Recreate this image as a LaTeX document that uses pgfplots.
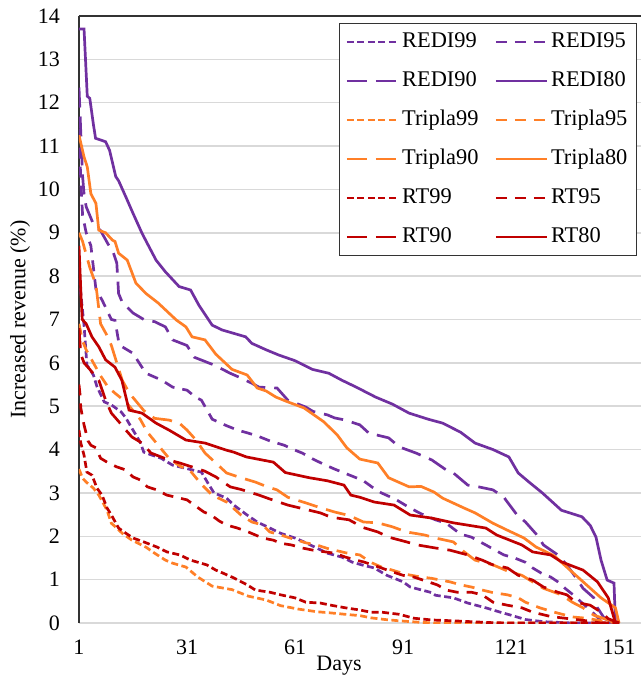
\documentclass[border=0pt]{standalone}
\usepackage{fontspec}
\setmainfont{Liberation Serif}
\usepackage{pgfplots}
\pgfplotsset{compat=1.18}
\definecolor{cP}{HTML}{7030A0}
\definecolor{cO}{HTML}{FF7F27}
\definecolor{cR}{HTML}{C00000}
\definecolor{gridc}{HTML}{D9D9D9}
\tikzset{
  s99/.style={dash pattern=on 3.5pt off 1.75pt},
  s95/.style={dash pattern=on 5.5pt off 4pt},
  s90/.style={dash pattern=on 10pt off 4.5pt},
  s80/.style={solid},
}
\begin{document}
\begin{tikzpicture}
\begin{axis}[name=ax, scale only axis, width=281pt, height=303.5pt,
 xmin=1, xmax=157.1, ymin=0, ymax=14,
 xtick={1,31,61,91,121,151}, ytick={0,1,...,14},
 major tick length=0pt,
 axis x line*=bottom, axis y line*=left,
 x axis line style={draw=gridc, line width=0.75pt, -},
 y axis line style={draw=black!80, line width=0.75pt, -},
 ymajorgrids, grid style={draw=gridc, line width=0.75pt},
 tick label style={font=\fontsize{11}{13}\selectfont},
 /pgf/number format/assume math mode=true,
 yticklabel style={xshift=-6pt},
 xticklabel style={yshift=-5pt},
 xlabel={Days}, ylabel={Increased revenue (\%)},
 label style={font=\fontsize{11}{13}\selectfont},
 xlabel style={at={(axis description cs:0.4626,-0.071)}, anchor=center},
 ylabel style={at={(axis description cs:-0.105,0.5)}, anchor=center},
 legend columns=2,
 legend cell align=left,
 legend style={at={(axis description cs:0.9929,0.9885)}, anchor=north east,
   draw=black!80, line width=0.6pt, fill=white, inner sep=3pt, row sep=7pt,
   font=\fontsize{11.2}{13}\selectfont,
   nodes={text height=7.5pt, text depth=2pt, inner sep=1.5pt},
   /tikz/every even column/.append style={column sep=6.5pt}},
 legend image code/.code={\draw[#1, line width=1.3pt] (0pt,0pt) -- (25.5pt,0pt);},
 every axis plot/.append style={line width=1.35pt},
 after end axis/.code={\draw[black!80, line width=0.75pt] (rel axis cs:0,1) -- (rel axis cs:1,1);},
]
% REDI99
\addplot[cP, s99] coordinates {(1,8.2)(1.5,7.6)(2,7.2)(2.4,6.87)(3.2,5.95)(4,5.85)(5,5.72)(6,5.45)(8,5.1)(10,5.03)(12.7,4.87)(14,4.73)(16,4.45)(18,4.17)(19,3.94)(21,3.88)(23.8,3.8)(27,3.64)(31,3.56)(35,3.48)(37,3.2)(38.5,3.0)(42,2.88)(44,2.72)(47.7,2.49)(50.5,2.33)(54,2.19)(57,2.07)(61,1.96)(63.5,1.87)(67,1.73)(70,1.61)(74,1.52)(77,1.4)(80,1.33)(83,1.27)(86.5,1.1)(91,0.95)(93,0.83)(99,0.7)(100,0.64)(105,0.58)(109,0.46)(114,0.35)(118,0.25)(121,0.18)(125,0.08)(130,0.03)(138,0)(151,0)};
\addlegendentry{REDI99}
% REDI95
\addplot[cP, s95] coordinates {(1,11.4)(1.5,10.2)(2,9.4)(3,9.0)(4.3,8.7)(5,8.2)(5.7,7.7)(7.4,7.45)(10,7.0)(11,6.98)(12,6.5)(13,6.37)(16,6.22)(17.7,6.0)(19.6,5.76)(24,5.6)(27,5.44)(31,5.37)(33.5,5.2)(35,5.14)(38,4.7)(42,4.55)(45,4.45)(48,4.38)(51,4.3)(54,4.2)(58,4.1)(60,4.02)(63,3.92)(66,3.78)(69,3.66)(72,3.55)(75,3.45)(78,3.35)(80,3.28)(83,3.1)(85,3.0)(89,2.85)(93,2.65)(96,2.52)(100,2.38)(103,2.3)(107,2.05)(110,1.98)(114,1.8)(119,1.57)(122,1.5)(125,1.4)(127,1.27)(130,1.12)(132,1.06)(134,0.95)(136,0.8)(139,0.6)(140.5,0.48)(143,0.3)(146,0.05)(151,0)};
\addlegendentry{REDI95}
% REDI90
\addplot[cP, s90] coordinates {(1,12.35)(1.5,11.3)(2,10.3)(2.4,9.9)(3,9.6)(5,9.2)(7,9.05)(9,8.75)(10.5,8.55)(11.5,8.3)(12,7.6)(13,7.4)(16,7.15)(19,7.0)(22,6.95)(25,6.83)(27,6.53)(31,6.4)(33,6.13)(38.5,5.95)(43,5.76)(46,5.65)(49,5.53)(51,5.44)(56,5.42)(59,5.14)(64,4.98)(66,4.88)(70,4.8)(72,4.73)(75,4.68)(79,4.57)(81.5,4.38)(87,4.27)(90,4.06)(94.6,3.92)(99,3.76)(103,3.53)(105,3.46)(109,3.18)(112,3.14)(116,3.07)(119,2.9)(122.6,2.5)(125,2.33)(128,2.05)(130,1.8)(134,1.57)(136.5,1.34)(139,1.05)(141,0.8)(144,0.58)(145,0.35)(147,0.1)(150,0)(151,0)};
\addlegendentry{REDI90}
% REDI80
\addplot[cP, s80] coordinates {(1,13.7)(2.4,13.7)(3.3,12.15)(4,12.1)(5,11.5)(5.6,11.18)(8.4,11.1)(9.5,10.9)(11.2,10.3)(12,10.2)(14,9.83)(16,9.45)(18.5,8.99)(20,8.75)(22.4,8.37)(25,8.1)(28.8,7.76)(32,7.68)(34.3,7.33)(38,6.87)(40.7,6.76)(44,6.68)(47.3,6.6)(49,6.45)(53,6.3)(56.5,6.18)(61,6.05)(65.8,5.85)(70.4,5.76)(74,5.6)(78,5.44)(83.4,5.21)(88,5.05)(92.7,4.84)(98,4.7)(102,4.61)(107,4.4)(111,4.15)(116,4.0)(120.4,3.83)(123,3.46)(126,3.25)(129.7,3.0)(135,2.6)(140.7,2.45)(143,2.25)(144.6,1.98)(146,1.45)(147.7,0.99)(149.6,0.92)(150,0)(151,0)};
\addlegendentry{REDI80}
% Tripla99
\addplot[cO, s99] coordinates {(1,3.55)(2,3.34)(3,3.25)(5,3.11)(6.5,2.95)(8.8,2.6)(10,2.3)(11.5,2.19)(13,2.07)(15.7,1.91)(19.6,1.75)(22,1.61)(25,1.45)(27,1.38)(30.7,1.29)(34,1.06)(38,0.85)(43.5,0.77)(48,0.62)(53,0.53)(57,0.4)(62,0.32)(67,0.26)(70,0.24)(75,0.2)(79,0.17)(82,0.12)(86,0.08)(90,0.05)(95,0.02)(100,0)(151,0)};
\addlegendentry{Tripla99}
% Tripla95
\addplot[cO, s95] coordinates {(1,6.9)(2,6.5)(3,6.3)(5,6.0)(7,5.7)(9,5.45)(11,5.3)(14,5.1)(16,4.9)(18,4.7)(20,4.4)(23,4.1)(26,3.8)(29,3.62)(32,3.5)(35,3.2)(38,2.95)(42,2.79)(46,2.49)(49,2.33)(52,2.26)(54,2.1)(57,2.03)(60,1.95)(64,1.85)(67,1.8)(70,1.72)(75,1.62)(79,1.57)(82,1.4)(85,1.29)(88,1.22)(92,1.12)(96,1.06)(99,1.03)(102,0.98)(104,0.95)(107,0.88)(110,0.83)(113,0.76)(116,0.7)(120,0.65)(123,0.58)(125,0.48)(129,0.35)(133,0.25)(138,0.14)(142,0.11)(146,0.05)(151,0)};
\addlegendentry{Tripla95}
% Tripla90
\addplot[cO, s90] coordinates {(1,9.0)(2,8.8)(3,8.5)(4,8.2)(5.7,7.8)(7,6.9)(9,6.6)(10,6.4)(11.5,6.0)(13,5.6)(15,5.3)(17,5.1)(19,4.9)(22,4.72)(26,4.68)(29,4.6)(31,4.45)(33.5,4.22)(36,3.92)(39,3.69)(42,3.46)(46,3.35)(50,3.25)(53,3.15)(56,3.07)(59,2.9)(64,2.77)(68,2.66)(72,2.56)(76,2.48)(80,2.33)(84,2.31)(88,2.22)(92,2.1)(97,2.03)(100,1.96)(105,1.87)(108,1.64)(111,1.45)(116,1.34)(120,1.2)(124,1.1)(127,0.95)(130,0.8)(135,0.65)(138,0.48)(141,0.35)(144,0.18)(148,0.07)(151,0)};
\addlegendentry{Tripla90}
% Tripla80
\addplot[cO, s80] coordinates {(1,11.25)(2.4,10.75)(3.3,10.52)(4.3,9.9)(5.7,9.68)(6.5,9.06)(8.4,9.0)(10.3,8.83)(11,8.8)(12,8.53)(14.4,8.37)(16.8,7.84)(19.6,7.6)(23,7.38)(28,6.99)(30.7,6.83)(32.4,6.6)(36,6.53)(39,6.2)(43.5,5.85)(47.7,5.72)(50.5,5.42)(53,5.35)(55.7,5.21)(59,5.1)(63.5,4.96)(69,4.64)(72.7,4.34)(75.4,4.04)(79,3.78)(84,3.69)(87,3.35)(92.7,3.14)(96,3.15)(99.6,3.02)(102,2.88)(108,2.65)(111,2.54)(116,2.3)(120,2.14)(124.6,1.96)(128,1.75)(133,1.55)(139,1.1)(146,0.58)(150,0.35)(151,0)};
\addlegendentry{Tripla80}
% RT99
\addplot[cR, s99] coordinates {(1,4.45)(1.5,4.15)(2.4,3.87)(3.2,3.48)(4.6,3.41)(6,3.11)(7.4,2.95)(8.8,2.65)(10,2.49)(12,2.19)(13.5,2.1)(16,1.96)(19,1.87)(22.7,1.75)(25.4,1.64)(29,1.57)(32,1.45)(36.5,1.34)(39,1.22)(41,1.15)(44,1.04)(47.7,0.88)(50,0.76)(54,0.71)(57,0.65)(61,0.58)(64,0.48)(68,0.46)(71,0.41)(75,0.35)(79,0.3)(82,0.25)(85,0.25)(90,0.2)(94,0.11)(99,0.07)(105,0.05)(110,0.03)(115,0.01)(120,0)(151,0)};
\addlegendentry{RT99}
% RT95
\addplot[cR, s95] coordinates {(1,5.5)(1.3,5.26)(1.5,4.96)(2.4,4.57)(3.5,4.2)(4.3,4.1)(5.7,4.04)(7,3.8)(8.8,3.71)(11.5,3.6)(14,3.53)(16,3.37)(18,3.3)(20,3.14)(22.6,3.07)(25.4,2.95)(28,2.9)(31,2.84)(33,2.72)(35.7,2.56)(37.7,2.49)(40,2.35)(42,2.26)(45,2.19)(48,2.1)(50,2.03)(52,1.96)(55,1.91)(57,1.84)(60,1.8)(63,1.73)(66,1.68)(72,1.61)(75,1.52)(78,1.45)(80,1.41)(85,1.27)(88,1.18)(91,1.1)(94,1.06)(98,0.95)(100.5,0.88)(103,0.76)(106,0.71)(110,0.71)(113,0.65)(116,0.48)(120,0.41)(124,0.35)(127,0.25)(132,0.15)(137,0.1)(142,0.05)(146,0)(151,0)};
\addlegendentry{RT95}
% RT90
\addplot[cR, s90] coordinates {(1,6.8)(1.5,6.2)(2.4,6.0)(4,5.85)(5.7,5.68)(6.5,5.6)(8.4,5.14)(10,4.84)(12,4.65)(14,4.45)(15.7,4.29)(18.5,4.15)(21,3.92)(26,3.76)(29,3.69)(32.4,3.6)(36,3.5)(39,3.37)(43,3.14)(46,3.08)(51,2.95)(54,2.86)(59,2.72)(64,2.62)(68,2.54)(71,2.44)(76,2.38)(80,2.2)(84,2.1)(87,1.98)(92,1.87)(95,1.8)(100,1.73)(104,1.68)(109,1.57)(113,1.45)(116,1.34)(120,1.27)(123,1.1)(127,0.99)(130,0.83)(134,0.71)(136.5,0.65)(139,0.48)(143,0.41)(146,0.25)(148,0.1)(151,0)};
\addlegendentry{RT90}
% RT80
\addplot[cR, s80] coordinates {(1,8.7)(1.6,7.47)(1.9,7.0)(3,6.9)(4.6,6.6)(6.5,6.37)(8.4,6.07)(11,5.9)(12.9,5.6)(14.9,4.91)(18.5,4.84)(22.4,4.61)(26,4.45)(30.7,4.22)(36,4.15)(41.8,3.99)(44,3.94)(47.5,3.83)(55,3.71)(58.3,3.47)(65,3.35)(70,3.28)(74.6,3.18)(76.5,2.95)(79,2.9)(83,2.79)(88.5,2.72)(93,2.49)(99,2.42)(105,2.31)(114,2.19)(117,2.03)(124,1.8)(127,1.64)(132,1.57)(135,1.41)(141,1.22)(145,0.95)(148,0.58)(150,0)(151,0)};
\addlegendentry{RT80}
\end{axis}
\pgfresetboundingbox
\useasboundingbox ([xshift=-39.5pt,yshift=-26.5pt]ax.south west) rectangle ([yshift=8pt]ax.north east);
\end{tikzpicture}
\end{document}
